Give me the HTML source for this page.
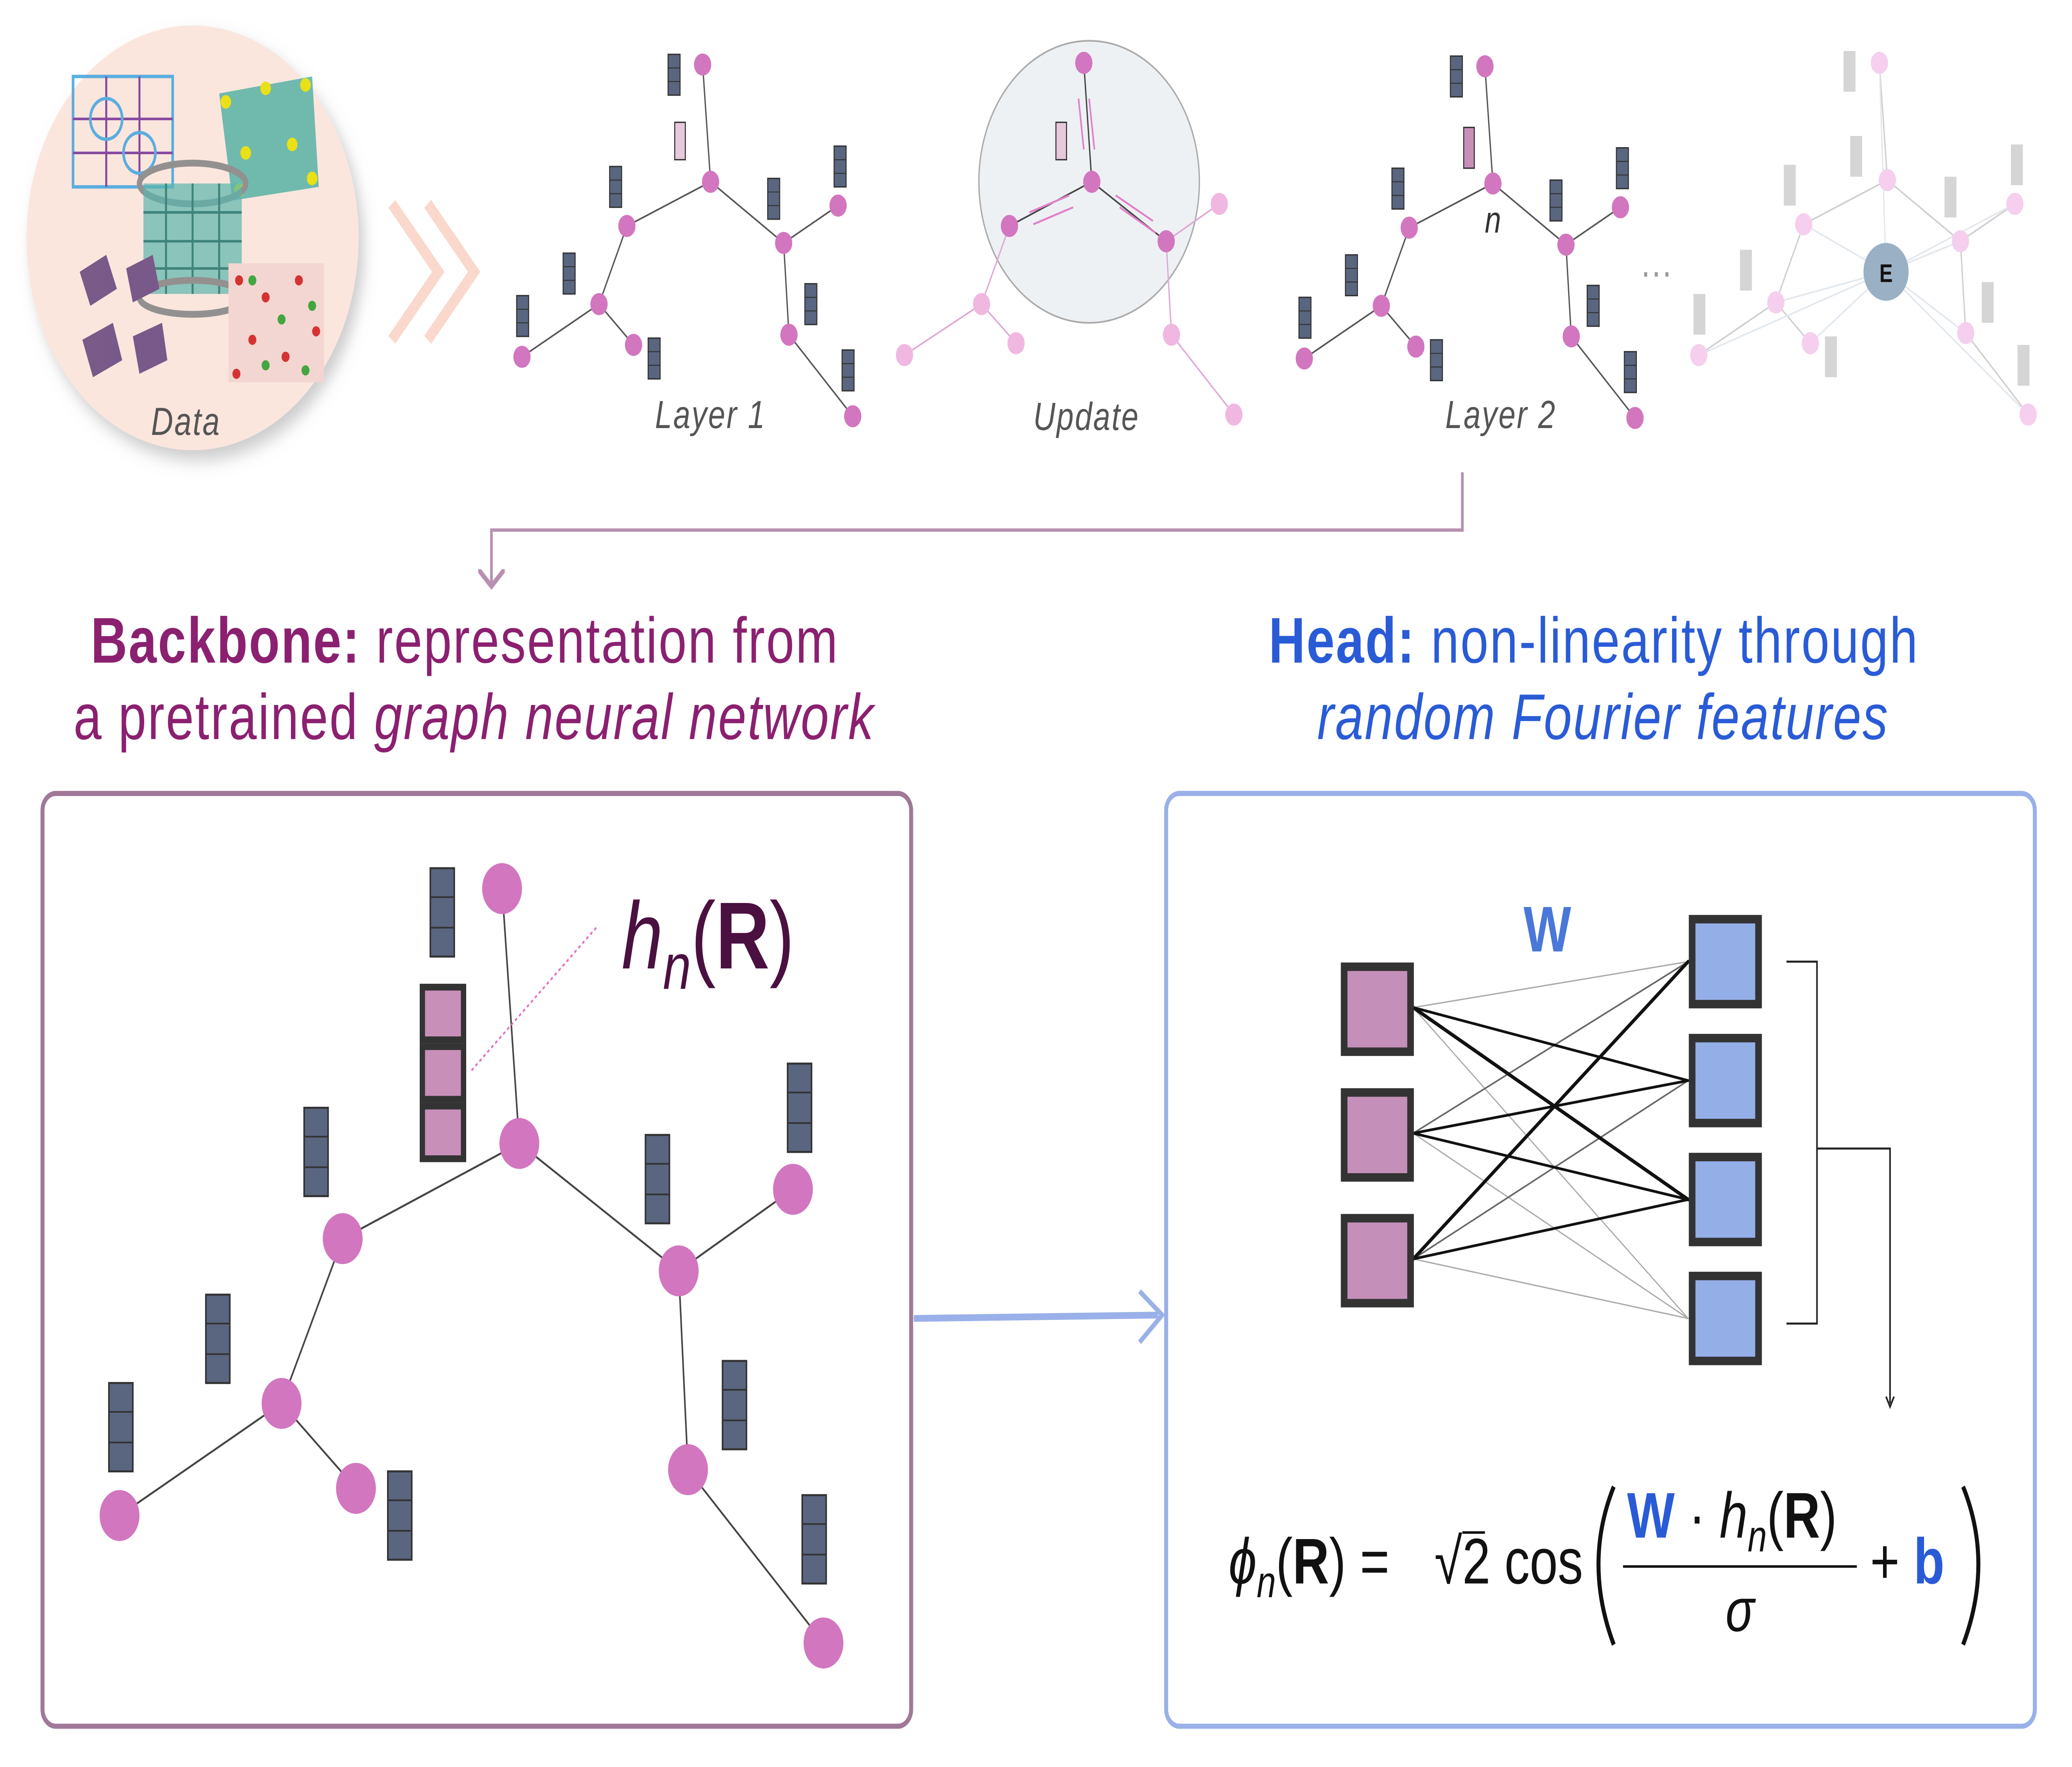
<!DOCTYPE html>
<html><head><meta charset="utf-8"><style>
html,body{margin:0;padding:0;background:#fff;overflow:hidden;width:100vw;height:100vh}
svg{display:block;width:100vw;height:100vh}
text{font-family:"Liberation Sans",sans-serif}
</style></head><body>
<svg viewBox="0 0 1560 1040" preserveAspectRatio="none" xmlns="http://www.w3.org/2000/svg">
<defs>
<filter id="sh" x="-20%" y="-20%" width="140%" height="140%"><feDropShadow dx="4" dy="6" stdDeviation="5" flood-color="#999" flood-opacity="0.5"/></filter>
<marker id="ah" markerWidth="10" markerHeight="10" refX="5" refY="5" orient="auto"><path d="M0,0 L5,5 L0,10" fill="none" stroke="#b890b0" stroke-width="1.5"/></marker>
<g id="bar"><rect x="0" y="0" width="9" height="24" fill="#5a6680" stroke="#333" stroke-width="0.8"/><line x1="0" y1="8" x2="9" y2="8" stroke="#333" stroke-width="0.6"/><line x1="0" y1="16" x2="9" y2="16" stroke="#333" stroke-width="0.6"/></g>
<g id="bigbar"><rect x="0" y="0" width="18" height="52" fill="#5a6680" stroke="#333" stroke-width="1.2"/><line x1="0" y1="17" x2="18" y2="17" stroke="#333"/><line x1="0" y1="35" x2="18" y2="35" stroke="#333"/></g>
<g id="graph">
<path d="M529,38 L535,107 L472,133 L451,179 L393,210 M451,179 L477,203 M535,107 L590,143 L631,121 M590,143 L594,197 L642,245" stroke="#555" stroke-width="1" fill="none"/>
<g fill="#d276c0">
<circle cx="529" cy="38" r="6.5"/><circle cx="535" cy="107" r="6.5"/><circle cx="472" cy="133" r="6.5"/><circle cx="451" cy="179" r="6.5"/><circle cx="393" cy="210" r="6.5"/><circle cx="477" cy="203" r="6.5"/><circle cx="590" cy="143" r="6.5"/><circle cx="631" cy="121" r="6.5"/><circle cx="594" cy="197" r="6.5"/><circle cx="642" cy="245" r="6.5"/>
</g>
<use href="#bar" x="503" y="32"/><use href="#bar" x="459" y="98"/><use href="#bar" x="424" y="149"/><use href="#bar" x="389" y="174"/><use href="#bar" x="488" y="199"/><use href="#bar" x="578" y="105"/><use href="#bar" x="628" y="86"/><use href="#bar" x="606" y="167"/><use href="#bar" x="634" y="206"/>
</g>
</defs>

<!-- Data circle -->
<circle cx="145" cy="140" r="125" fill="#fbe6de" filter="url(#sh)"/>
<g opacity="0.9">
<rect x="55" y="45" width="75" height="65" fill="none" stroke="#4aa8e0" stroke-width="2"/>
<path d="M55,70 H130 M55,90 H130 M80,45 V110 M105,45 V110" stroke="#7a3a9a" stroke-width="1.5"/>
<circle cx="80" cy="70" r="12" fill="none" stroke="#4aa8e0" stroke-width="2"/><circle cx="105" cy="90" r="12" fill="none" stroke="#4aa8e0" stroke-width="2"/>
<polygon points="165,55 235,45 240,110 175,118" fill="#3aa89a" opacity="0.8"/>
<g fill="#e8e000"><circle cx="170" cy="60" r="4"/><circle cx="200" cy="52" r="4"/><circle cx="230" cy="50" r="4"/><circle cx="185" cy="90" r="4"/><circle cx="220" cy="85" r="4"/><circle cx="180" cy="112" r="4"/><circle cx="235" cy="105" r="4"/></g>
<ellipse cx="145" cy="108" rx="40" ry="12" fill="none" stroke="#888" stroke-width="4"/>
<rect x="108" y="108" width="74" height="65" fill="#4ab0a8" opacity="0.7"/>
<path d="M108,125 H182 M108,142 H182 M108,158 H182 M125,108 V173 M145,108 V173 M165,108 V173" stroke="#2a7a70" stroke-width="1.5"/>
<ellipse cx="145" cy="175" rx="40" ry="10" fill="none" stroke="#888" stroke-width="4"/>
<g fill="#6a4a80"><polygon points="60,160 80,150 88,170 68,180"/><polygon points="95,158 115,150 120,170 100,178"/><polygon points="62,200 85,190 92,212 70,222"/><polygon points="100,198 122,190 126,212 105,220"/></g>
<rect x="172" y="155" width="72" height="70" fill="#f3d5d0"/>
<g fill="#d02020"><circle cx="180" cy="165" r="3"/><circle cx="200" cy="175" r="3"/><circle cx="225" cy="165" r="3"/><circle cx="190" cy="200" r="3"/><circle cx="215" cy="210" r="3"/><circle cx="238" cy="195" r="3"/><circle cx="178" cy="220" r="3"/></g>
<g fill="#30a030"><circle cx="190" cy="165" r="3"/><circle cx="212" cy="188" r="3"/><circle cx="235" cy="180" r="3"/><circle cx="200" cy="215" r="3"/><circle cx="230" cy="218" r="3"/></g>
</g>
<text x="140" y="256" font-size="23" font-style="italic" fill="#555" text-anchor="middle" letter-spacing="1">Data</text>

<!-- chevrons -->
<path d="M295,120 L330,160 L295,200" fill="none" stroke="#fbd8cc" stroke-width="7"/>
<path d="M322,120 L357,160 L322,200" fill="none" stroke="#fbd8cc" stroke-width="7"/>

<!-- Layer 1 -->
<use href="#graph"/>
<rect x="508" y="72" width="8" height="22" fill="#e8c8dc" stroke="#333" stroke-width="0.8"/>
<text x="535" y="252" font-size="23" font-style="italic" fill="#555" text-anchor="middle" letter-spacing="1">Layer 1</text>

<!-- Update -->
<circle cx="820" cy="107" r="83" fill="#eef1f4" stroke="#aaa" stroke-width="1"/>
<path d="M760,133 L739,179 L681,209 M739,179 L765,202 M878,142 L918,120 M878,142 L882,197 L929,244" stroke="#e0a8d4" stroke-width="1" fill="none"/>
<path d="M816,37 L822,107 L760,133 M822,107 L878,142" stroke="#444" stroke-width="1" fill="none"/>
<g fill="#f0b8e0"><circle cx="739" cy="179" r="6.5"/><circle cx="681" cy="209" r="6.5"/><circle cx="765" cy="202" r="6.5"/><circle cx="918" cy="120" r="6.5"/><circle cx="882" cy="197" r="6.5"/><circle cx="929" cy="244" r="6.5"/></g>
<g fill="#d276c0"><circle cx="816" cy="37" r="6.5"/><circle cx="822" cy="107" r="6.5"/><circle cx="760" cy="133" r="6.5"/><circle cx="878" cy="142" r="6.5"/></g>
<rect x="795" y="72" width="8" height="22" fill="#e8c8dc" stroke="#333" stroke-width="0.8"/>
<g stroke="#e080c8" stroke-width="1.2" fill="none">
<path d="M812,58 L816,88 M820,58 L824,88"/><path d="M775,125 L805,115 M778,132 L808,122"/><path d="M840,115 L868,130 M843,122 L870,137"/>
</g>
<text x="818" y="253" font-size="23" font-style="italic" fill="#555" text-anchor="middle" letter-spacing="1">Update</text>

<!-- Layer 2 -->
<use href="#graph" x="589" y="1"/>
<rect x="1102" y="75" width="8" height="24" fill="#c88fb8" stroke="#333" stroke-width="0.8"/>
<text x="1124" y="137" font-size="22" font-style="italic" fill="#333" text-anchor="middle" font-family="Liberation Serif,serif">n</text>
<text x="1130" y="252" font-size="23" font-style="italic" fill="#555" text-anchor="middle" letter-spacing="1">Layer 2</text>
<text x="1247" y="168" font-size="24" fill="#999" text-anchor="middle">···</text>

<!-- faded final -->
<g opacity="0.4">
<path d="M1415,37 L1421,106 L1358,132 L1337,178 L1279,209 M1337,178 L1363,202 M1421,106 L1476,142 L1517,120 M1476,142 L1480,196 L1527,244" stroke="#888" stroke-width="1" fill="none"/>
<path d="M1420,160 L1415,37 M1420,160 L1358,132 M1420,160 L1279,209 M1420,160 L1363,202 M1420,160 L1517,120 M1420,160 L1480,196 M1420,160 L1527,244 M1420,160 L1337,178 M1420,160 L1476,142" stroke="#b8c8d8" stroke-width="1" fill="none"/>
<g fill="#e88ad4"><circle cx="1415" cy="37" r="6.5"/><circle cx="1421" cy="106" r="6.5"/><circle cx="1358" cy="132" r="6.5"/><circle cx="1337" cy="178" r="6.5"/><circle cx="1279" cy="209" r="6.5"/><circle cx="1363" cy="202" r="6.5"/><circle cx="1476" cy="142" r="6.5"/><circle cx="1517" cy="120" r="6.5"/><circle cx="1480" cy="196" r="6.5"/><circle cx="1527" cy="244" r="6.5"/></g>
<g fill="#999"><rect x="1388" y="30" width="9" height="24"/><rect x="1393" y="80" width="9" height="24"/><rect x="1343" y="97" width="9" height="24"/><rect x="1310" y="147" width="9" height="24"/><rect x="1275" y="173" width="9" height="24"/><rect x="1374" y="198" width="9" height="24"/><rect x="1464" y="104" width="9" height="24"/><rect x="1514" y="85" width="9" height="24"/><rect x="1492" y="166" width="9" height="24"/><rect x="1519" y="203" width="9" height="24"/></g>
</g>
<circle cx="1420" cy="160" r="17" fill="#9ab0c4"/>
<text x="1420" y="166" font-size="15" font-weight="bold" fill="#111" text-anchor="middle">E</text>

<!-- connector -->
<path d="M1101,278 V312 H370 V345" fill="none" stroke="#b890b0" stroke-width="2" marker-end="url(#ah)"/>

<!-- titles -->
<text x="350" y="390" font-size="38" fill="#8b2070" text-anchor="middle" letter-spacing="1"><tspan font-weight="bold">Backbone:</tspan> representation from</text>
<text x="357" y="435" font-size="38" fill="#8b2070" text-anchor="middle" letter-spacing="1">a pretrained <tspan font-style="italic">graph neural network</tspan></text>
<text x="1200" y="390" font-size="38" fill="#2a5bd7" text-anchor="middle" letter-spacing="1"><tspan font-weight="bold">Head:</tspan> non-linearity through</text>
<text x="1207" y="435" font-size="38" fill="#2a5bd7" text-anchor="middle" font-style="italic" letter-spacing="1">random Fourier features</text>

<!-- boxes -->
<rect x="32" y="467" width="654" height="549" rx="10" fill="#fff" stroke="#a07898" stroke-width="3"/>
<rect x="878" y="467" width="654" height="549" rx="10" fill="#fff" stroke="#9ab0e8" stroke-width="3"/>
<path d="M688,776 L872,774" stroke="#9ab0e8" stroke-width="4"/>
<path d="M858,760 L875,774 L858,790" fill="none" stroke="#9ab0e8" stroke-width="3"/>

<!-- big graph -->
<path d="M378,523 L391,673 L258,729 L212,826 L90,892 M212,826 L268,876 M391,673 L511,748 L597,700 M511,748 L518,865 L620,967" stroke="#444" stroke-width="1.2" fill="none"/>
<g fill="#d276c0">
<circle cx="378" cy="523" r="15"/><circle cx="391" cy="673" r="15"/><circle cx="258" cy="729" r="15"/><circle cx="212" cy="826" r="15"/><circle cx="90" cy="892" r="15"/><circle cx="268" cy="876" r="15"/><circle cx="511" cy="748" r="15"/><circle cx="597" cy="700" r="15"/><circle cx="518" cy="865" r="15"/><circle cx="620" cy="967" r="15"/>
</g>
<use href="#bigbar" x="324" y="511"/><use href="#bigbar" x="229" y="652"/><use href="#bigbar" x="486" y="668"/><use href="#bigbar" x="593" y="626"/><use href="#bigbar" x="155" y="762"/><use href="#bigbar" x="82" y="814"/><use href="#bigbar" x="292" y="866"/><use href="#bigbar" x="544" y="801"/><use href="#bigbar" x="604" y="880"/>
<g fill="#c88fb8" stroke="#333" stroke-width="4">
<rect x="318" y="581" width="31" height="31"/><rect x="318" y="616" width="31" height="31"/><rect x="318" y="651" width="31" height="31"/>
</g>
<path d="M355,630 L450,545" stroke="#e070c0" stroke-width="1.2" stroke-dasharray="2,2"/>
<text x="468" y="570" font-size="56" fill="#4a1040" font-family="Liberation Serif,serif"><tspan font-style="italic">h</tspan><tspan font-style="italic" font-size="38" dy="12">n</tspan><tspan dy="-12">(</tspan><tspan font-weight="bold">R</tspan>)</text>

<!-- NN -->
<g stroke-linecap="round" fill="none">
<path d="M1064,593 L1271,566 M1064,667 L1271,776 M1064,593 L1271,776 M1064,741 L1271,776" stroke="#aaa" stroke-width="0.8"/>
<path d="M1064,593 L1271,706 M1064,667 L1271,566 M1064,741 L1271,636" stroke="#666" stroke-width="1"/>
<path d="M1064,593 L1271,636 M1064,667 L1271,636 M1064,667 L1271,706 M1064,741 L1271,706 M1064,741 L1271,566" stroke="#111" stroke-width="1.6"/>
<path d="M1064,593 L1271,706 M1064,741 L1271,566" stroke="#111" stroke-width="2.2"/>
</g>
<g fill="#c48fb8" stroke="#333" stroke-width="5">
<rect x="1012" y="569" width="50" height="50"/><rect x="1012" y="643" width="50" height="50"/><rect x="1012" y="717" width="50" height="50"/>
</g>
<g fill="#94aee8" stroke="#333" stroke-width="5">
<rect x="1274" y="541" width="50" height="50"/><rect x="1274" y="611" width="50" height="50"/><rect x="1274" y="681" width="50" height="50"/><rect x="1274" y="751" width="50" height="50"/>
</g>
<text x="1165" y="560" font-size="38" font-weight="bold" fill="#4a78d8" text-anchor="middle" font-family="Liberation Serif,serif">W</text>
<path d="M1345,566 H1368 V779 H1345 M1368,676 H1423 V826" fill="none" stroke="#222" stroke-width="1.2"/>
<path d="M1420,822 L1423,828 L1426,822" fill="none" stroke="#222" stroke-width="1.2"/>

<!-- formula -->
<g font-family="Liberation Serif,serif" fill="#111">
<text x="925" y="932" font-size="38"><tspan font-style="italic">ϕ</tspan><tspan font-style="italic" font-size="26" dy="8">n</tspan><tspan dy="-8">(</tspan><tspan font-weight="bold">R</tspan>) =</text>
<text x="1080" y="932" font-size="38">√</text>
<path d="M1101,902 H1118" stroke="#111" stroke-width="1.5"/>
<text x="1101" y="932" font-size="38">2 cos</text>
<path d="M1215,875 Q1192,920 1215,968" fill="none" stroke="#111" stroke-width="3"/>
<text x="1225" y="905" font-size="38"><tspan font-weight="bold" fill="#2a5bd7">W</tspan> · <tspan font-style="italic">h</tspan><tspan font-style="italic" font-size="26" dy="8">n</tspan><tspan dy="-8">(</tspan><tspan font-weight="bold">R</tspan>)</text>
<path d="M1222,922 H1398" stroke="#111" stroke-width="1.5"/>
<text x="1310" y="960" font-size="36" font-style="italic" text-anchor="middle">σ</text>
<text x="1408" y="932" font-size="38">+ <tspan font-weight="bold" fill="#2a5bd7">b</tspan></text>
<path d="M1478,875 Q1501,920 1478,968" fill="none" stroke="#111" stroke-width="3"/>
</g>
</svg>
</body></html>
